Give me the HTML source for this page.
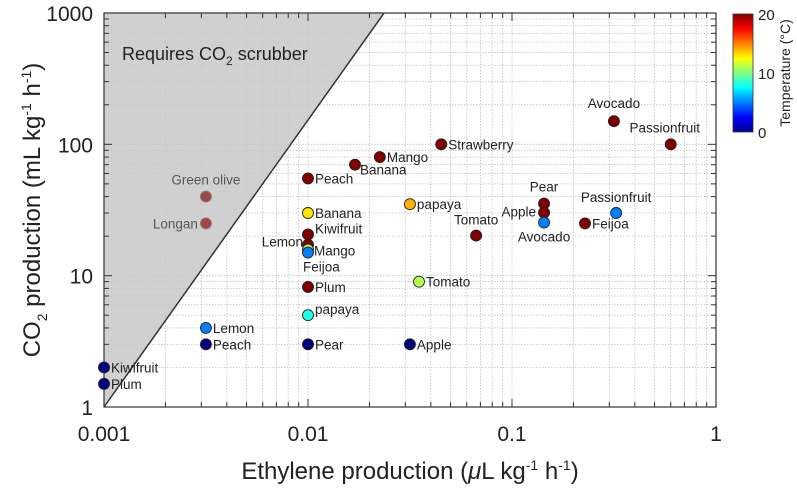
<!DOCTYPE html>
<html><head><meta charset="utf-8"><style>
body{margin:0;background:#fff;}
svg{display:block;font-family:"Liberation Sans",Arial,sans-serif;}
</style></head><body>
<svg id="c" width="797" height="491" viewBox="0 0 797 491" xmlns="http://www.w3.org/2000/svg">
<defs>
<linearGradient id="jet" x1="0" y1="1" x2="0" y2="0">
<stop offset="0" stop-color="#00008f"/><stop offset="0.125" stop-color="#0000ff"/><stop offset="0.375" stop-color="#00ffff"/><stop offset="0.625" stop-color="#ffff00"/><stop offset="0.875" stop-color="#ff0000"/><stop offset="1" stop-color="#800000"/>
</linearGradient>
<clipPath id="pc"><rect x="104" y="13" width="612" height="394"/></clipPath>
</defs>
<g id="grid"></g>
<polygon id="shade" fill="#c8c8c8" fill-opacity="0.85" clip-path="url(#pc)"/>
<line id="bound" stroke="#333" stroke-width="1.5" clip-path="url(#pc)"/>
<text x="122" y="60" font-size="18" fill="#222">Requires CO<tspan font-size="12" dy="5">2</tspan><tspan dy="-5"> scrubber</tspan></text>
<g id="ticks"></g>
<g id="pts"></g>
<text x="410" y="479" font-size="24" text-anchor="middle" fill="#222">Ethylene production (<tspan font-style="italic">μ</tspan>L kg<tspan font-size="14" dy="-9">-1</tspan><tspan dy="9"> h</tspan><tspan font-size="14" dy="-9">-1</tspan><tspan dy="9">)</tspan></text>
<text transform="translate(40,210) rotate(-90)" font-size="24" text-anchor="middle" fill="#222">CO<tspan font-size="14" dy="7">2</tspan><tspan dy="-7"> production (mL kg</tspan><tspan font-size="14" dy="-9">-1</tspan><tspan dy="9"> h</tspan><tspan font-size="14" dy="-9">-1</tspan><tspan dy="9">)</tspan></text>
<rect x="733" y="14" width="20" height="118" fill="url(#jet)" stroke="#333" stroke-width="0.8"/>
<g id="cb"></g>
<text transform="translate(790,73) rotate(-90)" font-size="14" text-anchor="middle" fill="#222">Temperature (°C)</text>
</svg>
<script>
const names=["Green olive","Longan","Kiwifruit","Plum","Lemon","Peach","papaya","Pear","Apple","Plum","Tomato","Lemon","Mango","Feijoa","Kiwifruit","Banana","Peach","Banana","Mango","Strawberry","papaya","Tomato","Pear","Apple","Avocado","Feijoa","Passionfruit","Avocado","Passionfruit"];
const ethylene=[0.00316,0.00316,0.001,0.001,0.00316,0.00316,0.01,0.01,0.0316,0.01,0.035,0.01,0.01,0.01,0.01,0.01,0.01,0.017,0.0225,0.045,0.0316,0.0667,0.1436,0.1436,0.1436,0.228,0.324,0.316,0.6];
const co2=[40,25,2,1.5,4,3,5,3,3,8.2,9,17.2,15.8,15,20.6,30,55,70,80,100,35,20.2,35.4,30.2,25.4,25,30,150,100];
const temps=[20,20,0,0,5,0,8,0,0,20,11,20,11,5,20,13,20,20,20,20,14,20,20,20,5,20,5,20,20];
const xTicks=[0.001,0.01,0.1,1];
const xTickLabels=["0.001","0.01","0.1","1"];
const yTicks=[1,10,100,1000];
const yTickLabels=["1","10","100","1000"];
const cbTicks=[0,10,20];
const boundaryE=[0.001,0.0236];
const boundaryC=[1,1000];
// label placement: [dx, dy, anchor]
const lp=[[0,-12,"middle"],[-8,5,"end"],[7,5,"start"],[7,5,"start"],[7,5,"start"],[7,5,"start"],[7,-1,"start"],[7,5,"start"],[7,5,"start"],[7,5,"start"],[7,5,"start"],[-5,2,"end"],[6,6,"start"],[-5,19,"start"],[7,-1,"start"],[7,5,"start"],[7,5,"start"],[5,10,"start"],[7,5,"start"],[7,5,"start"],[7,5,"start"],[0,-11,"middle"],[0,-12,"middle"],[-8,4,"end"],[0,19,"middle"],[7,5,"start"],[0,-11,"middle"],[0,-13,"middle"],[-6,-12,"middle"]];
const X0=104,X1=716,Y0=407,Y1=13;
const xs=v=>X0+(Math.log10(v)+3)/3*(X1-X0);
const ys=v=>Y0-Math.log10(v)/3*(Y0-Y1);
function jet(t){t=Math.max(0,Math.min(1,t));const f=x=>Math.round(255*Math.max(0,Math.min(1,1.5-Math.abs(4*t-x))));return `rgb(${f(3)},${f(2)},${f(1)})`;}
const NS="http://www.w3.org/2000/svg";
function mk(tag,attrs,parent){const e=document.createElementNS(NS,tag);for(const k in attrs)e.setAttribute(k,attrs[k]);parent.appendChild(e);return e;}
const grid=document.getElementById('grid'),ticks=document.getElementById('ticks');
for(let d=-3;d<0;d++)for(let m=1;m<10;m++){const v=m*Math.pow(10,d);const x=xs(v);
 const g=mk('line',{x1:x,x2:x,y1:Y1,y2:Y0,stroke:'#c0c0c0','stroke-width':0.8,'stroke-dasharray':'1.5 1.5'},grid);
 
 const L=m==1?8:5;mk('line',{x1:x,x2:x,y1:Y0,y2:Y0-L,stroke:'#333'},ticks);mk('line',{x1:x,x2:x,y1:Y1,y2:Y1+L,stroke:'#333'},ticks);}
for(let d=0;d<3;d++)for(let m=1;m<10;m++){const v=m*Math.pow(10,d);const y=ys(v);
 const g=mk('line',{x1:X0,x2:X1,y1:y,y2:y,stroke:'#c0c0c0','stroke-width':0.8,'stroke-dasharray':'1.5 1.5'},grid);
 
 const L=m==1?8:5;mk('line',{x1:X0,x2:X0+L,y1:y,y2:y,stroke:'#333'},ticks);mk('line',{x1:X1,x2:X1-L,y1:y,y2:y,stroke:'#333'},ticks);}
mk('rect',{x:X0,y:Y1,width:X1-X0,height:Y0-Y1,fill:'none',stroke:'#333','stroke-width':1.2},ticks);
xTicks.forEach((v,i)=>{const t=mk('text',{x:xs(v),y:Y0+34,'font-size':21,'text-anchor':'middle',fill:'#222'},ticks);t.textContent=xTickLabels[i];
 });
yTicks.forEach((v,i)=>{const t=mk('text',{x:X0-11,y:ys(v)+8,'font-size':21,'text-anchor':'end',fill:'#222'},ticks);t.textContent=yTickLabels[i];
 });
const bx0=xs(boundaryE[0]),by0=ys(boundaryC[0]),bx1=xs(boundaryE[1]),by1=ys(boundaryC[1]);
document.getElementById('shade').setAttribute('points',`${bx0},${by0} ${bx1},${by1} ${X0},${Y1}`);
const b=document.getElementById('bound');b.setAttribute('x1',bx0);b.setAttribute('y1',by0);b.setAttribute('x2',bx1);b.setAttribute('y2',by1);
const cb=document.getElementById('cb');
cbTicks.forEach(v=>{const y=132-v/20*118;const t=mk('text',{x:758,y:y+6,'font-size':15,fill:'#222'},cb);t.textContent=v;
 });
const pts=document.getElementById('pts');
names.forEach((n,i)=>{const x=xs(ethylene[i]),y=ys(co2[i]);const inShade=i<2;
 const c=mk('circle',{cx:x,cy:y,r:5.5,fill:jet(temps[i]/20),stroke:inShade?'#7a4444':'#222','stroke-width':0.9,opacity:inShade?0.65:1},pts);
 
 
 const p=lp[i];const t=mk('text',{x:x+p[0],y:y+p[1],'font-size':13.5,'text-anchor':p[2],fill:inShade?'#555':'#222'},pts);t.textContent=n;
 
 });
</script>
</body></html>
